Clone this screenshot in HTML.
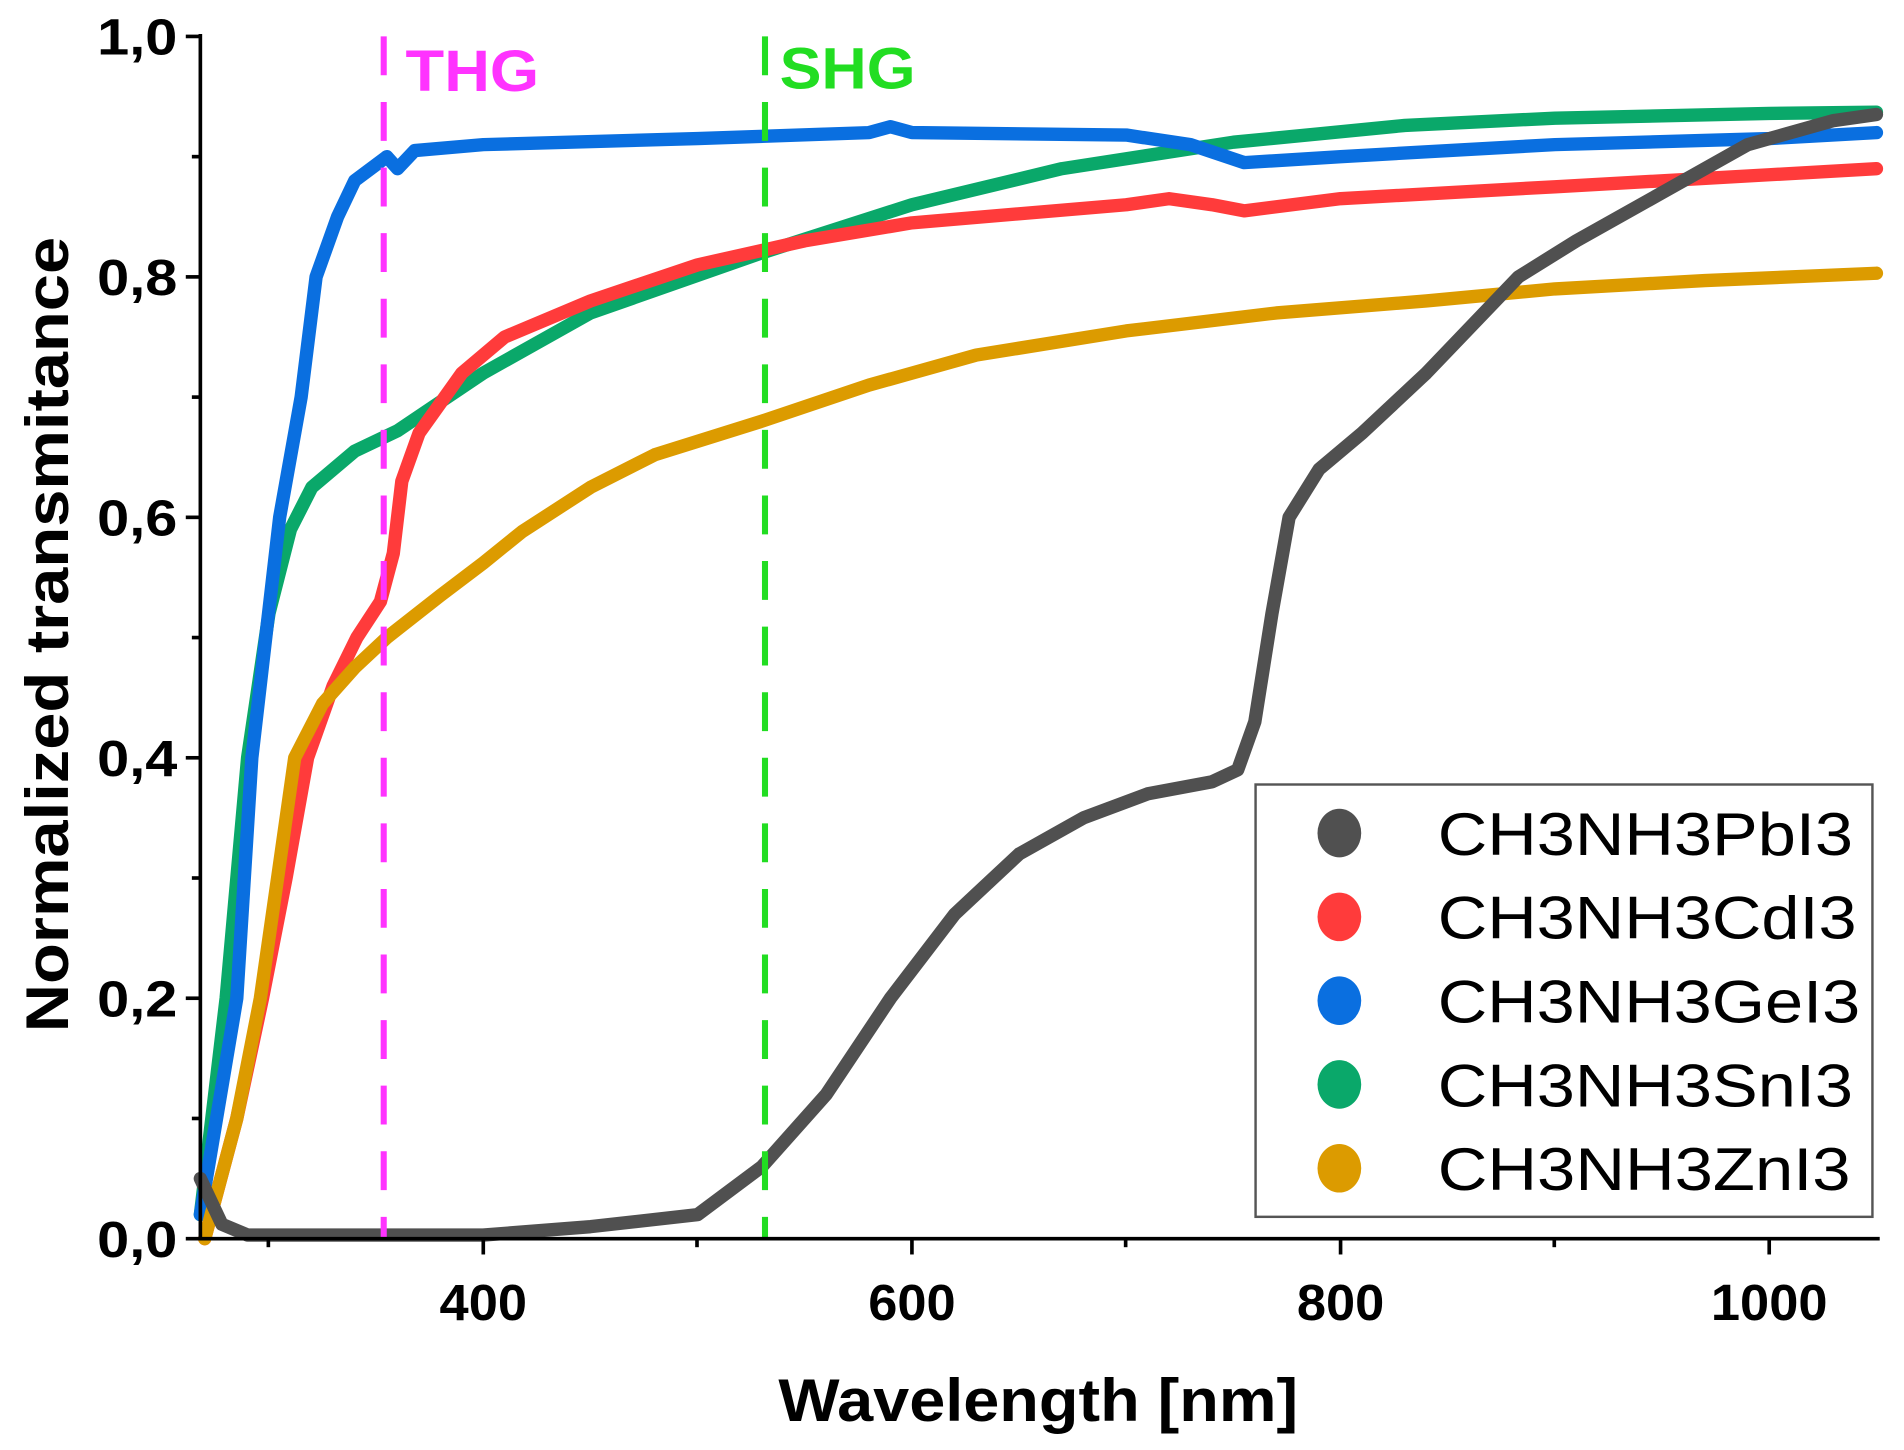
<!DOCTYPE html>
<html><head><meta charset="utf-8"><style>
html,body{margin:0;padding:0;background:#fff;}
svg{display:block;}
text{font-family:"Liberation Sans",Arial,sans-serif;}
</style></head><body>
<svg id="s" width="1904" height="1450" viewBox="0 0 1568 1194" preserveAspectRatio="none" xmlns="http://www.w3.org/2000/svg">
<rect width="1568" height="1194" fill="#fff"/>
<g id="curves" fill="none" stroke-linecap="round" stroke-linejoin="round"></g>
<line x1="316" y1="30" x2="316" y2="1020" stroke="#ff33ff" stroke-width="5" stroke-dasharray="32,22"/>
<line x1="630" y1="30" x2="630" y2="1020" stroke="#22dd22" stroke-width="5" stroke-dasharray="32,22"/>
<text x="334" y="75" font-size="48" font-weight="bold" fill="#ff33ff" textLength="110" lengthAdjust="spacingAndGlyphs">THG</text>
<text x="642" y="73" font-size="48" font-weight="bold" fill="#22dd22" textLength="112" lengthAdjust="spacingAndGlyphs">SHG</text>
<g stroke="#000" stroke-width="3" fill="none">
<line x1="165" y1="28" x2="165" y2="1021"/>
<line x1="164" y1="1020" x2="1548" y2="1020"/>
<line x1="153" y1="30" x2="165" y2="30"/>
<line x1="153" y1="228" x2="165" y2="228"/>
<line x1="153" y1="426" x2="165" y2="426"/>
<line x1="153" y1="624" x2="165" y2="624"/>
<line x1="153" y1="822" x2="165" y2="822"/>
<line x1="153" y1="1020" x2="165" y2="1020"/>
<line x1="158" y1="129" x2="165" y2="129"/>
<line x1="158" y1="327" x2="165" y2="327"/>
<line x1="158" y1="525" x2="165" y2="525"/>
<line x1="158" y1="723" x2="165" y2="723"/>
<line x1="158" y1="921" x2="165" y2="921"/>
<line x1="398" y1="1020" x2="398" y2="1033"/>
<line x1="751" y1="1020" x2="751" y2="1033"/>
<line x1="1104" y1="1020" x2="1104" y2="1033"/>
<line x1="1457" y1="1020" x2="1457" y2="1033"/>
<line x1="221" y1="1020" x2="221" y2="1027"/>
<line x1="574" y1="1020" x2="574" y2="1027"/>
<line x1="927" y1="1020" x2="927" y2="1027"/>
<line x1="1280" y1="1020" x2="1280" y2="1027"/>
</g>
<g font-size="42" font-weight="bold" fill="#000">
<text x="80" y="45" textLength="66" lengthAdjust="spacingAndGlyphs">1,0</text>
<text x="80" y="243" textLength="66" lengthAdjust="spacingAndGlyphs">0,8</text>
<text x="80" y="441" textLength="66" lengthAdjust="spacingAndGlyphs">0,6</text>
<text x="80" y="639" textLength="66" lengthAdjust="spacingAndGlyphs">0,4</text>
<text x="80" y="837" textLength="66" lengthAdjust="spacingAndGlyphs">0,2</text>
<text x="80" y="1035" textLength="66" lengthAdjust="spacingAndGlyphs">0,0</text>
</g>
<g font-size="42" font-weight="bold" fill="#000">
<text x="362" y="1087" textLength="72" lengthAdjust="spacingAndGlyphs">400</text>
<text x="715" y="1087" textLength="72" lengthAdjust="spacingAndGlyphs">600</text>
<text x="1068" y="1087" textLength="72" lengthAdjust="spacingAndGlyphs">800</text>
<text x="1409" y="1087" textLength="96" lengthAdjust="spacingAndGlyphs">1000</text>
</g>
<text x="641" y="1170" font-size="50" font-weight="bold" textLength="428" lengthAdjust="spacingAndGlyphs">Wavelength [nm]</text>
<text transform="translate(56,850) rotate(-90)" font-size="50" font-weight="bold" textLength="655" lengthAdjust="spacingAndGlyphs">Normalized transmitance</text>
<rect x="1034" y="646" width="508" height="356" fill="#fff" stroke="#555" stroke-width="2"/>
<g>
<ellipse cx="1103" cy="686" rx="18" ry="20" fill="#505050"/>
<ellipse cx="1103" cy="755" rx="18" ry="20" fill="#ff3b3b"/>
<ellipse cx="1103" cy="824" rx="18" ry="20" fill="#0a6fe0"/>
<ellipse cx="1103" cy="893" rx="18" ry="20" fill="#0aa86a"/>
<ellipse cx="1103" cy="962" rx="18" ry="20" fill="#dc9b00"/>
</g>
<g font-size="50" fill="#000">
<text x="1184" y="704" textLength="342" lengthAdjust="spacingAndGlyphs">CH3NH3PbI3</text>
<text x="1184" y="773" textLength="345" lengthAdjust="spacingAndGlyphs">CH3NH3CdI3</text>
<text x="1184" y="842" textLength="348" lengthAdjust="spacingAndGlyphs">CH3NH3GeI3</text>
<text x="1184" y="911" textLength="342" lengthAdjust="spacingAndGlyphs">CH3NH3SnI3</text>
<text x="1184" y="980" textLength="340" lengthAdjust="spacingAndGlyphs">CH3NH3ZnI3</text>
</g>
</svg>
<script>
(function(){
var X=function(n){return 398+(n-400)*1.765;};
var Y=function(v){return 1020-v*990;};
var series=[
["#0aa86a",[[268,0.02],[280,0.2],[290,0.4],[300,0.52],[310,0.59],[320,0.625],[340,0.655],[360,0.672],[400,0.72],[450,0.77],[530,0.82],[600,0.86],[670,0.89],[750,0.912],[830,0.926],[900,0.932],[1000,0.936],[1050,0.937]]],
["#ff3b3b",[[270,0.0],[285,0.1],[297,0.2],[308,0.3],[318,0.4],[330,0.46],[341,0.5],[352,0.53],[358,0.57],[362,0.63],[370,0.67],[390,0.72],[410,0.75],[450,0.78],[500,0.81],[550,0.83],[600,0.845],[700,0.86],[720,0.865],[740,0.86],[755,0.855],[800,0.865],[900,0.875],[1000,0.885],[1050,0.89]]],
["#0a6fe0",[[268,0.02],[285,0.2],[292,0.4],[305,0.6],[315,0.7],[322,0.8],[332,0.85],[340,0.88],[355,0.9],[360,0.89],[368,0.905],[400,0.91],[500,0.915],[580,0.92],[590,0.925],[600,0.92],[700,0.918],[730,0.91],[755,0.895],[800,0.9],[900,0.91],[1000,0.915],[1050,0.92]]],
["#dc9b00",[[270,0.0],[285,0.1],[296,0.2],[304,0.3],[312,0.4],[325,0.445],[340,0.475],[355,0.5],[380,0.535],[400,0.562],[418,0.588],[450,0.625],[480,0.652],[530,0.68],[580,0.71],[630,0.735],[700,0.755],[770,0.77],[840,0.78],[900,0.79],[970,0.797],[1050,0.803]]],
["#505050",[[268,0.05],[278,0.012],[290,0.003],[400,0.003],[450,0.01],[500,0.02],[530,0.06],[560,0.12],[590,0.2],[620,0.27],[650,0.32],[680,0.35],[710,0.37],[740,0.38],[752,0.39],[760,0.43],[768,0.52],[776,0.6],[790,0.64],[810,0.67],[840,0.72],[883,0.8],[910,0.83],[950,0.87],[990,0.91],[1030,0.93],[1050,0.935]]]
];
var g=document.getElementById('curves');
series.forEach(function(s){
 var p=s[1].map(function(q){return X(q[0]).toFixed(1)+','+Y(q[1]).toFixed(1);}).join(' ');
 var pl=document.createElementNS('http://www.w3.org/2000/svg','polyline');
 pl.setAttribute('points',p);pl.setAttribute('stroke',s[0]);pl.setAttribute('stroke-width','11');
 g.appendChild(pl);
});
})();
</script>
</body></html>
